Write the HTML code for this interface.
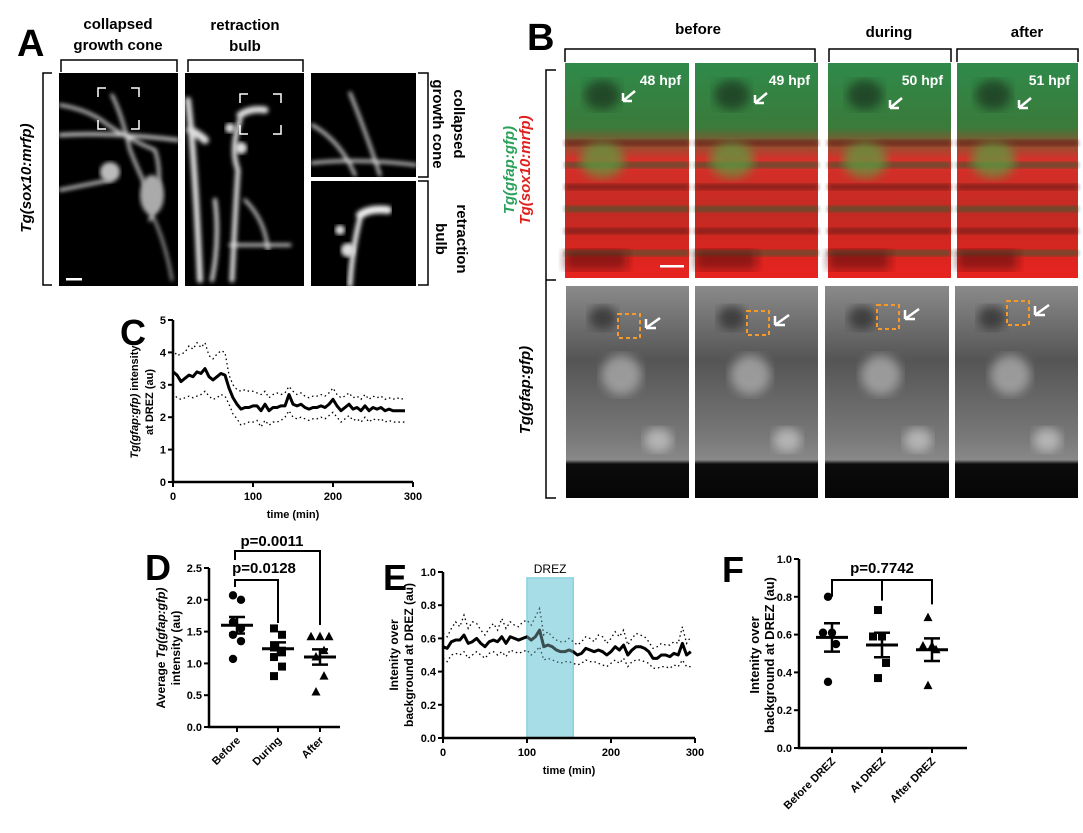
<!DOCTYPE html>
<html><head><meta charset="utf-8">
<style>
html,body{margin:0;padding:0;background:#fff;}
svg{display:block;font-family:"Liberation Sans",sans-serif;}
.b{font-weight:bold;}
</style></head>
<body>
<svg id="fig" width="1083" height="833" viewBox="0 0 1083 833" xmlns="http://www.w3.org/2000/svg">
<defs>
<filter id="blur2"><feGaussianBlur stdDeviation="2"/></filter>
<filter id="blur5"><feGaussianBlur stdDeviation="5"/></filter>
<filter id="blur8"><feGaussianBlur stdDeviation="8"/></filter>
<linearGradient id="cg" x1="0" y1="0" x2="0" y2="1">
<stop offset="0" stop-color="#2f8a4a"/><stop offset="0.3" stop-color="#3a7a3a"/><stop offset="0.45" stop-color="#d8302a"/><stop offset="0.7" stop-color="#c22a22"/><stop offset="1" stop-color="#e8231f"/></linearGradient>
<linearGradient id="gg" x1="0" y1="0" x2="0" y2="1">
<stop offset="0" stop-color="#8a8a8a"/><stop offset="0.35" stop-color="#555"/><stop offset="0.7" stop-color="#777"/><stop offset="0.82" stop-color="#888"/><stop offset="0.84" stop-color="#0c0c0c"/><stop offset="1" stop-color="#050505"/></linearGradient>
</defs>

<!-- ===== Panel A ===== -->
<g>
<text x="17" y="56" font-size="38" class="b">A</text>
<text x="118" y="29" font-size="15" class="b" text-anchor="middle"><tspan x="118">collapsed</tspan><tspan x="118" dy="21">growth cone</tspan></text>
<text x="245" y="30" font-size="15" class="b" text-anchor="middle"><tspan x="245">retraction</tspan><tspan x="245" dy="21">bulb</tspan></text>
<path d="M61 72 V60 H177 V72 M188 72 V60 H303 V72" fill="none" stroke="#000" stroke-width="1.5"/>
<path d="M52 73 H43 V285 H52" fill="none" stroke="#000" stroke-width="1.5"/>
<text transform="translate(31,178) rotate(-90)" font-size="15" class="b" font-style="italic" text-anchor="middle">Tg(sox10:mrfp)</text>
<g>
<rect x="59" y="73" width="119" height="213" fill="#000"/>
<g stroke="#ddd" fill="none" filter="url(#blur2)" stroke-linecap="round">
<path d="M60 105 Q90 110 108 125 Q130 140 155 150 Q165 180 150 220" stroke-width="3"/>
<path d="M60 135 Q110 132 178 140" stroke-width="3.5"/>
<path d="M112 95 Q122 115 130 150 Q140 175 150 195" stroke-width="3"/>
<path d="M60 190 Q85 185 110 180" stroke-width="3"/>
<path d="M150 210 Q165 240 172 280" stroke-width="2"/>
</g>
<ellipse cx="110" cy="172" rx="10" ry="10" fill="#bbb" filter="url(#blur2)"/>
<ellipse cx="152" cy="195" rx="12" ry="20" fill="#aaa" filter="url(#blur2)"/>
<path d="M98 97 V88 H106 M131 88 H139 V97 M98 120 V129 H106 M131 129 H139 V120" stroke="#fff" stroke-width="1.5" fill="none"/>
<rect x="66" y="278" width="16" height="2.5" fill="#fff"/>
</g>
<g>
<rect x="185" y="73" width="119" height="213" fill="#000"/>
<g stroke="#ddd" fill="none" filter="url(#blur2)" stroke-linecap="round">
<path d="M240 115 Q250 108 265 110" stroke-width="7"/>
<path d="M240 120 Q230 150 238 170 Q236 200 232 280" stroke-width="5"/>
<path d="M188 100 Q195 160 200 280" stroke-width="6"/>
<path d="M190 130 Q200 135 205 140" stroke-width="8"/>
<path d="M215 200 Q220 240 212 280" stroke-width="4"/>
<path d="M245 200 Q265 220 268 250 M230 245 H290" stroke-width="3"/>
</g>
<circle cx="230" cy="128" r="5" fill="#ddd" filter="url(#blur2)"/>
<circle cx="241" cy="148" r="6" fill="#ddd" filter="url(#blur2)"/>
<path d="M240 103 V94 H248 M273 94 H281 V103 M240 125 V134 H248 M273 134 H281 V125" stroke="#fff" stroke-width="1.5" fill="none"/>
<rect x="262" y="250" width="16" height="36" fill="#000"/>
</g>
<g>
<rect x="311" y="73" width="105" height="104" fill="#000"/>
<g stroke="#ddd" fill="none" filter="url(#blur2)" stroke-width="3" stroke-linecap="round">
<path d="M312 163 Q360 158 416 165"/><path d="M350 93 Q365 130 380 175"/><path d="M312 125 Q340 140 355 175"/>
</g>
</g>
<g>
<rect x="311" y="181" width="105" height="105" fill="#000"/>
<g stroke="#eee" fill="none" filter="url(#blur2)" stroke-linecap="round">
<path d="M360 215 Q370 208 388 210" stroke-width="8"/><path d="M360 218 Q352 250 350 285" stroke-width="5"/>
</g>
<circle cx="340" cy="230" r="5" fill="#ddd" filter="url(#blur2)"/>
<circle cx="348" cy="250" r="7" fill="#ddd" filter="url(#blur2)"/>
</g>
<path d="M418 73 H428 V177 H418 M418 181 H428 V285 H418" fill="none" stroke="#000" stroke-width="1.5"/>
<text transform="translate(454,124) rotate(90)" font-size="15" class="b" text-anchor="middle"><tspan x="0">collapsed</tspan><tspan x="0" dy="21">growth cone</tspan></text>
<text transform="translate(457,239) rotate(90)" font-size="15" class="b" text-anchor="middle"><tspan x="0">retraction</tspan><tspan x="0" dy="21">bulb</tspan></text>
</g>

<!-- ===== Panel B ===== -->
<g>
<text x="527" y="50" font-size="38" class="b">B</text>
<text x="698" y="34" font-size="15" class="b" text-anchor="middle">before</text>
<text x="889" y="37" font-size="15" class="b" text-anchor="middle">during</text>
<text x="1027" y="37" font-size="15" class="b" text-anchor="middle">after</text>
<path d="M565 62 V49 H815 V62 M829 62 V49 H951 V62 M957 62 V49 H1078 V62" fill="none" stroke="#000" stroke-width="1.5"/>
<path d="M556 70 H546 V280 M546 280 H556 M546 280 V498 H556" fill="none" stroke="#000" stroke-width="1.5"/>
<text transform="translate(514,170) rotate(-90)" font-size="15" class="b" font-style="italic" text-anchor="middle" fill="#2aa05a">Tg(gfap:gfp)</text>
<text transform="translate(530,170) rotate(-90)" font-size="15" class="b" font-style="italic" text-anchor="middle" fill="#e0201c">Tg(sox10:mrfp)</text>
<text transform="translate(530,390) rotate(-90)" font-size="15" class="b" font-style="italic" text-anchor="middle">Tg(gfap:gfp)</text>
<g id="bpanels"></g>
</g>

<!-- ===== Charts ===== -->
<g id="chartC"></g>
<g id="chartD"></g>
<g id="chartE"></g>
<g id="chartF"></g>
</svg>

<script>
const NS = "http://www.w3.org/2000/svg";
// ---- Panel C data ----
const cTimes = [0,5,10,15,20,25,30,35,40,45,50,55,60,65,70,75,80,85,90,95,100,105,110,115,120,125,130,135,140,145,150,155,160,165,170,175,180,185,190,195,200,205,210,215,220,225,230,235,240,245,250,255,260,265,270,275,280,285,290];
const cMean = [3.4,3.3,3.1,3.2,3.3,3.25,3.4,3.35,3.5,3.25,3.15,3.25,3.35,3.3,2.9,2.6,2.4,2.25,2.3,2.3,2.35,2.35,2.2,2.4,2.2,2.3,2.3,2.35,2.35,2.7,2.4,2.35,2.4,2.3,2.25,2.3,2.3,2.35,2.3,2.4,2.55,2.35,2.2,2.3,2.4,2.25,2.3,2.2,2.35,2.2,2.3,2.25,2.3,2.2,2.25,2.2,2.2,2.2,2.2];
const cUpper = [4.1,3.9,3.95,4.0,4.2,4.1,4.3,4.15,4.3,3.9,3.8,3.95,4.05,4.0,3.3,3.0,2.85,2.8,2.85,2.8,2.8,2.75,2.7,2.8,2.6,2.7,2.75,2.7,2.75,2.95,2.8,2.7,2.75,2.65,2.6,2.65,2.65,2.7,2.65,2.75,2.9,2.7,2.6,2.65,2.75,2.6,2.65,2.55,2.7,2.55,2.65,2.6,2.65,2.55,2.6,2.55,2.6,2.55,2.6];
const cLower = [2.75,2.6,2.55,2.6,2.65,2.6,2.65,2.7,2.8,2.65,2.55,2.6,2.7,2.65,2.4,2.1,1.95,1.75,1.8,1.85,1.85,1.9,1.7,1.9,1.75,1.85,1.85,1.9,2.0,2.2,2.0,1.95,2.0,1.95,1.9,1.95,1.95,2.0,1.95,2.05,2.15,2.0,1.85,1.95,2.05,1.9,1.95,1.85,2.0,1.85,1.95,1.9,1.95,1.85,1.9,1.85,1.85,1.85,1.85];
const cYTicks = [0,1,2,3,4,5];
const cXTicks = [0,100,200,300];
// ---- Panel E data ----
const eTimes = cTimes.concat([295]);
const eMean = [0.55,0.54,0.58,0.59,0.59,0.62,0.57,0.58,0.60,0.57,0.55,0.58,0.59,0.58,0.61,0.57,0.61,0.60,0.59,0.60,0.61,0.59,0.61,0.65,0.55,0.56,0.55,0.53,0.52,0.52,0.53,0.52,0.50,0.51,0.54,0.53,0.52,0.53,0.52,0.50,0.52,0.55,0.53,0.56,0.50,0.53,0.55,0.55,0.54,0.52,0.48,0.48,0.50,0.50,0.49,0.51,0.50,0.57,0.50,0.52];
const eUpper = [0.63,0.61,0.66,0.70,0.67,0.74,0.66,0.70,0.69,0.65,0.62,0.66,0.69,0.65,0.72,0.66,0.70,0.68,0.67,0.70,0.71,0.68,0.73,0.78,0.62,0.64,0.61,0.59,0.58,0.58,0.60,0.58,0.56,0.58,0.61,0.60,0.58,0.62,0.61,0.57,0.60,0.64,0.61,0.65,0.56,0.60,0.63,0.62,0.61,0.58,0.54,0.55,0.57,0.56,0.56,0.58,0.57,0.67,0.57,0.61];
const eLower = [0.48,0.46,0.50,0.51,0.50,0.52,0.48,0.50,0.52,0.50,0.48,0.51,0.52,0.50,0.52,0.49,0.53,0.52,0.51,0.52,0.53,0.50,0.52,0.55,0.47,0.48,0.47,0.46,0.45,0.46,0.46,0.45,0.44,0.45,0.47,0.46,0.46,0.45,0.44,0.43,0.45,0.47,0.45,0.48,0.43,0.46,0.47,0.47,0.46,0.45,0.42,0.42,0.43,0.43,0.42,0.44,0.43,0.47,0.43,0.43];
const eYTicks = [0.0,0.2,0.4,0.6,0.8,1.0];
const eXTicks = [0,100,200,300];
const eBand = [100,155];
// ---- Panel D data ----
const dCats = ["Before","During","After"];
const dPoints = [[2.07,2.0,1.65,1.55,1.45,1.35,1.07],[1.55,1.45,1.25,1.2,1.1,0.95,0.8],[1.42,1.42,1.42,1.2,1.1,0.8,0.55]];
const dMeans = [1.6,1.23,1.1];
const dSems = [0.13,0.1,0.12];
const dYTicks = [0.0,0.5,1.0,1.5,2.0,2.5];
// ---- Panel F data ----
const fCats = ["Before DREZ","At DREZ","After DREZ"];
const fPoints = [[0.80,0.61,0.61,0.55,0.35],[0.73,0.59,0.59,0.45,0.37],[0.69,0.54,0.54,0.52,0.33]];
const fMeans = [0.585,0.545,0.52];
const fSems = [0.075,0.065,0.06];
const fYTicks = [0.0,0.2,0.4,0.6,0.8,1.0];

function mk(tag, attrs, parent){const e=document.createElementNS(NS,tag);for(const k in attrs)e.setAttribute(k,attrs[k]);parent.appendChild(e);return e;}
function txt(parent,x,y,s,size,anchor,extra){const t=mk("text",Object.assign({x:x,y:y,"font-size":size,"font-weight":"bold","text-anchor":anchor||"middle"},extra||{}),parent);t.textContent=s;return t;}

// ---- B panels ----
(function(){
  const g=document.getElementById("bpanels");
  const tops=[[565,689],[695,818],[828,951],[957,1078]];
  const bots=[[566,689],[695,818],[825,949],[955,1078]];
  const hpf=["48 hpf","49 hpf","50 hpf","51 hpf"];
  tops.forEach((p,i)=>{
    const w=p[1]-p[0];
    const grp=mk("g",{},g);
    
    
    mk("rect",{x:p[0],y:63,width:w,height:215,fill:"url(#cg)"},grp);
    for(let k=0;k<6;k++){mk("rect",{x:p[0],y:140+k*22,width:w,height:6,fill:k%2?"#3b5a30":"#6a1a18",opacity:0.7,filter:"url(#blur2)"},grp);}
    mk("ellipse",{cx:p[0]+w*0.3,cy:160,rx:22,ry:18,fill:"#5aa040",opacity:0.7,filter:"url(#blur5)"},grp);
    mk("ellipse",{cx:p[0]+w*0.3,cy:95,rx:18,ry:15,fill:"#1e3a22",opacity:0.8,filter:"url(#blur5)"},grp);
    mk("rect",{x:p[0],y:250,width:w*0.5,height:20,fill:"#5a1010",opacity:0.6,filter:"url(#blur5)"},grp);
    const t=txt(grp,p[1]-8,85,hpf[i],14,"end",{fill:"#fff"});
    
    
    const ax=p[0]+[58,60,62,62][i], ay=[101,103,108,108][i];
    mk("path",{d:`M${ax} ${ay} l12 -10 m-12 10 l9 0 m-9 0 l0 -8`,stroke:"#fff","stroke-width":2.5,fill:"none"},grp);
  });
  mk("rect",{x:660,y:265,width:24,height:2.5,fill:"#fff"},g);
  bots.forEach((p,i)=>{
    const w=p[1]-p[0];
    const grp=mk("g",{},g);
    
    
    mk("rect",{x:p[0],y:286,width:w,height:212,fill:"url(#gg)"},grp);
    mk("ellipse",{cx:p[0]+w*0.45,cy:375,rx:20,ry:20,fill:"#aaa",opacity:0.8,filter:"url(#blur5)"},grp);
    mk("ellipse",{cx:p[0]+w*0.75,cy:440,rx:14,ry:12,fill:"#ccc",opacity:0.7,filter:"url(#blur5)"},grp);
    mk("ellipse",{cx:p[0]+w*0.3,cy:318,rx:14,ry:12,fill:"#333",opacity:0.8,filter:"url(#blur5)"},grp);
    const bx=p[0]+52, by=[314,311,305,301][i];
    mk("rect",{x:bx,y:by,width:22,height:24,fill:"none",stroke:"#f59a2a","stroke-width":2,"stroke-dasharray":"4 3"},grp);
    mk("path",{d:`M${bx+28} ${by+14} l14 -10 m-14 10 l10 0 m-10 0 l0 -9`,stroke:"#fff","stroke-width":2.5,fill:"none"},grp);
  });
})();

// ---- generic line chart ----
function lineChart(id, times, mean, up, lo, yT, xT, o){
  const g=document.getElementById(id);
  const X=t=>o.x0+(t-0)/300*(o.x1-o.x0);
  const Y=v=>o.y0-(v-yT[0])/(yT[yT.length-1]-yT[0])*(o.y0-o.y1);
  if(o.band){
    const b=mk("rect",{x:X(o.band[0]),y:o.bandTop,width:X(o.band[1])-X(o.band[0]),height:o.y0-o.bandTop,fill:"#a7dde6",stroke:"#7fcfdc","stroke-width":1.5},g);
    
    
    const bt=txt(g,(X(o.band[0])+X(o.band[1]))/2,o.bandTop-5,"DREZ",12,"middle",{"font-weight":"normal"});
    
    
  }
  const pts=a=>a.map((v,i)=>X(times[i])+","+Y(v)).join(" ");
  const u=mk("polyline",{points:pts(up),fill:"none",stroke:"#000","stroke-width":1.3,"stroke-dasharray":"1.5 3"},g);
  
  
  const l=mk("polyline",{points:pts(lo),fill:"none",stroke:"#000","stroke-width":1.3,"stroke-dasharray":"1.5 3"},g);
  
  
  const m=mk("polyline",{points:pts(mean),fill:"none",stroke:"#000","stroke-width":3,"stroke-linejoin":"round"},g);
  
  
  if(o.band){mk("rect",{x:X(o.band[0]),y:o.bandTop,width:X(o.band[1])-X(o.band[0]),height:o.y0-o.bandTop,fill:"#a7dde6",opacity:0.35},g);}
  mk("path",{d:`M${o.x0} ${o.y1} V${o.y0} H${o.x1}`,fill:"none",stroke:"#000","stroke-width":2.5},g);
  yT.forEach(v=>{mk("line",{x1:o.x0-5,x2:o.x0,y1:Y(v),y2:Y(v),stroke:"#000","stroke-width":2},g);
    const t=txt(g,o.x0-7,Y(v)+4,o.yfmt(v),11,"end");
    
    });
  xT.forEach(v=>{mk("line",{x1:X(v),x2:X(v),y1:o.y0,y2:o.y0+5,stroke:"#000","stroke-width":2},g);
    const t=txt(g,X(v),o.y0+18,String(v),11,"middle");
    
    });
  const xt=txt(g,(o.x0+o.x1)/2,o.y0+36,"time (min)",11,"middle");
  
  
}
lineChart("chartC",cTimes,cMean,cUpper,cLower,cYTicks,cXTicks,{x0:173,x1:413,y0:482,y1:320,yfmt:v=>String(v)});
lineChart("chartE",eTimes,eMean,eUpper,eLower,eYTicks,eXTicks,{x0:443,x1:695,y0:738,y1:572,yfmt:v=>v.toFixed(1),band:eBand,bandTop:578});

// ---- scatter chart ----
function dotChart(id, cats, pointsArr, means, sems, yT, o){
  const g=document.getElementById(id);
  const Y=v=>o.y0-(v-yT[0])/(yT[yT.length-1]-yT[0])*(o.y0-o.y1);
  mk("path",{d:`M${o.x0} ${o.y1} V${o.y0} H${o.x1}`,fill:"none",stroke:"#000","stroke-width":2.5},g);
  yT.forEach(v=>{mk("line",{x1:o.x0-5,x2:o.x0,y1:Y(v),y2:Y(v),stroke:"#000","stroke-width":2},g);
    const t=txt(g,o.x0-7,Y(v)+4,v.toFixed(1),11,"end");
    
    });
  cats.forEach((c,i)=>{
    const cx=o.cx[i];
    mk("line",{x1:cx,x2:cx,y1:o.y0,y2:o.y0+5,stroke:"#000","stroke-width":2},g);
    const t=txt(g,cx+4,o.y0+14,c,11,"end",{transform:`rotate(-45 ${cx+4} ${o.y0+14})`});
    
    
    const pts=pointsArr[i];
    const seen={};
    pts.forEach((v,j)=>{const key=v.toFixed(2);const n=seen[key]||0;seen[key]=n+1;
      const dup=pts.filter(q=>q.toFixed(2)===key).length>1;
      const off=dup?[0,-9,9][n]:((j%2)?4:-4);
      const px=cx+off, py=Y(v);
      let mark;
      if(i===0) mark=mk("circle",{cx:px,cy:py,r:4.2,fill:"#000"},g);
      else if(i===1) mark=mk("rect",{x:px-4,y:py-4,width:8,height:8,fill:"#000"},g);
      else mark=mk("path",{d:`M${px} ${py-5} L${px+4.5} ${py+3.5} L${px-4.5} ${py+3.5} Z`,fill:"#000"},g);
      
      
    });
    const m=mk("line",{x1:cx-16,x2:cx+16,y1:Y(means[i]),y2:Y(means[i]),stroke:"#000","stroke-width":3},g);
    
    
    const e=mk("path",{d:`M${cx-8} ${Y(means[i]+sems[i])} H${cx+8} M${cx} ${Y(means[i]+sems[i])} V${Y(means[i]-sems[i])} M${cx-8} ${Y(means[i]-sems[i])} H${cx+8}`,fill:"none",stroke:"#000","stroke-width":2.5},g);
    
    
  });
  return Y;
}
const YD=dotChart("chartD",dCats,dPoints,dMeans,dSems,dYTicks,{x0:209,x1:340,y0:727,y1:568,cx:[237,278,320]});
const YF=dotChart("chartF",fCats,fPoints,fMeans,fSems,fYTicks,{x0:799,x1:967,y0:748,y1:559,cx:[832,882,932]});

// ---- static labels / brackets for charts ----
(function(){
  const s=document.getElementById("fig");
  function T(x,y,str,size,extra,name){const t=txt(s,x,y,str,size,"middle",extra);return t;}
  T(120,345,"C",36,{"text-anchor":"start"},"panel-c-label");
  T(145,580,"D",36,{"text-anchor":"start"},"panel-d-label");
  T(383,590,"E",36,{"text-anchor":"start"},"panel-e-label");
  T(722,582,"F",36,{"text-anchor":"start"},"panel-f-label");
  // C y title
  const c1=T(0,0,"",11,{transform:"translate(138,402) rotate(-90)"},"y-axis-title-c");
  c1.innerHTML='<tspan font-style="italic">Tg(gfap:gfp)</tspan> intensity';
  T(0,0,"at DREZ (au)",11,{transform:"translate(153,402) rotate(-90)"},"y-axis-title-c-line2");
  // D
  const d1=T(0,0,"",12,{transform:"translate(165,648) rotate(-90)"},"y-axis-title-d");
  d1.innerHTML='Average <tspan font-style="italic">Tg(gfap:gfp)</tspan>';
  T(0,0,"intensity (au)",12,{transform:"translate(180,648) rotate(-90)"},"y-axis-title-d-line2");
  // E
  T(0,0,"Intenity over",12,{transform:"translate(398,655) rotate(-90)"},"y-axis-title-e");
  T(0,0,"background at DREZ (au)",12,{transform:"translate(413,655) rotate(-90)"},"y-axis-title-e-line2");
  // F
  T(0,0,"Intenity over",13,{transform:"translate(759,655) rotate(-90)"},"y-axis-title-f");
  T(0,0,"background at DREZ (au)",13,{transform:"translate(774,655) rotate(-90)"},"y-axis-title-f-line2");
  // D brackets
  mk("path",{d:`M235 587 V580 H278 V623`,fill:"none",stroke:"#000","stroke-width":2},s);
  mk("path",{d:`M235 560 V551 H320 V625`,fill:"none",stroke:"#000","stroke-width":2},s);
  T(272,546,"p=0.0011",15,{},"p-value-d-before-after");
  T(264,573,"p=0.0128",15,{},"p-value-d-before-during");
  // F bracket
  mk("path",{d:`M832 ${YF(0.8)} V580 H932 V${YF(0.76)} M882 580 V${YF(0.78)}`,fill:"none",stroke:"#000","stroke-width":2},s);
  T(882,573,"p=0.7742",15,{},"p-value-f");
})();
</script>
</body></html>
